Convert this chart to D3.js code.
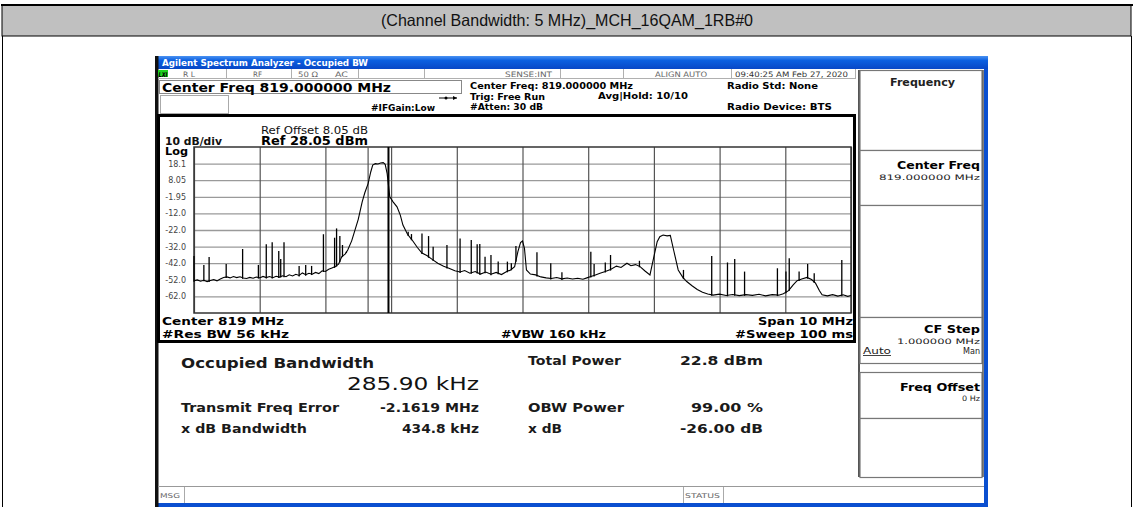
<!DOCTYPE html>
<html>
<head>
<meta charset="utf-8">
<script src="https://cdn.jsdelivr.net/npm/d3@7"></script>
<style>
  html, body { margin: 0; padding: 0; background: #fff; }
  svg { display: block; font-family: "DejaVu Sans", Verdana, sans-serif; }
</style>
</head>
<body>
<svg id="chart" width="1134" height="507"></svg>
<script>
// ---- values ----
const chartTitle = "(Channel Bandwidth: 5 MHz)_MCH_16QAM_1RB#0";

// span 814..824 MHz, ref 28.05 dBm, 10 dB/div
const freqDomain = [814, 824];
const levelDomain = [-71.95, 28.05];
const xGridFreqs = [814, 815, 816, 817, 818, 819, 820, 821, 822, 823, 824];
const yTickValues = [18.05, 8.05, -1.95, -11.95, -21.95, -31.95, -41.95, -51.95, -61.95];
const yTickLabels = ["18.1", "8.05", "-1.95", "-12.0", "-22.0", "-32.0", "-42.0", "-52.0", "-62.0"];

// trace [MHz, dBm]
const trace = [
  [814.00,-52.5],[814.05,-52.0],[814.10,-52.8],[814.15,-52.2],[814.20,-53.0],[814.25,-52.4],
  [814.30,-51.8],[814.35,-52.6],[814.40,-51.5],[814.45,-50.6],[814.50,-50.2],[814.55,-50.8],
  [814.60,-50.0],[814.65,-50.6],[814.70,-50.1],[814.75,-50.9],[814.80,-51.2],[814.85,-50.5],
  [814.90,-51.0],[814.95,-50.3],[815.00,-50.8],[815.05,-49.9],[815.10,-50.6],[815.15,-50.0],
  [815.20,-50.7],[815.25,-49.8],[815.30,-50.3],[815.35,-49.5],[815.40,-50.1],[815.45,-48.9],
  [815.50,-49.6],[815.55,-48.6],[815.60,-49.3],[815.65,-47.8],[815.70,-48.9],[815.75,-48.0],
  [815.80,-48.6],[815.85,-47.5],[815.90,-48.2],[815.95,-46.5],[816.00,-46.9],[816.05,-45.6],
  [816.10,-44.8],[816.15,-44.0],[816.20,-42.5],[816.25,-38.0],[816.30,-36.5],[816.34,-34.0],
  [816.40,-28.5],[816.45,-22.0],[816.50,-15.5],[816.56,-5.0],[816.60,0.5],[816.65,6.0],
  [816.69,13.0],[816.72,17.2],[816.76,18.0],[816.80,17.8],[816.84,18.4],[816.88,18.6],
  [816.91,17.6],[816.94,12.0],[816.98,-2.0],[817.03,-5.0],[817.09,-8.0],[817.14,-13.0],
  [817.18,-19.0],[817.25,-24.5],[817.32,-28.0],[817.40,-32.5],[817.47,-35.8],[817.55,-37.5],
  [817.62,-39.5],[817.71,-42.0],[817.80,-43.8],[817.88,-45.0],[817.97,-46.5],[818.05,-47.2],
  [818.12,-46.4],[818.20,-48.0],[818.28,-47.0],[818.36,-48.5],[818.44,-47.3],[818.52,-48.6],
  [818.60,-47.5],[818.68,-48.8],[818.76,-47.0],[818.82,-46.0],[818.88,-44.0],[818.93,-35.0],
  [818.97,-29.5],[819.00,-28.6],[819.03,-33.0],[819.06,-46.0],[819.12,-48.5],[819.20,-49.0],
  [819.28,-50.2],[819.36,-50.8],[819.44,-51.2],[819.52,-50.6],[819.60,-51.4],[819.68,-50.9],
  [819.76,-51.5],[819.84,-51.0],[819.92,-51.6],[819.98,-50.8],[820.04,-50.0],[820.10,-49.2],
  [820.18,-48.0],[820.26,-47.0],[820.34,-45.8],[820.43,-43.7],[820.50,-44.5],[820.59,-42.0],
  [820.65,-43.5],[820.72,-42.8],[820.79,-44.0],[820.86,-46.5],[820.94,-49.0],[821.00,-38.0],
  [821.05,-29.0],[821.09,-26.0],[821.14,-25.0],[821.20,-25.5],[821.25,-25.2],[821.30,-34.0],
  [821.37,-46.0],[821.44,-50.5],[821.50,-53.0],[821.58,-55.5],[821.66,-57.8],[821.74,-59.5],
  [821.82,-60.5],[821.90,-61.2],[822.00,-60.6],[822.10,-61.4],[822.20,-60.8],[822.30,-61.5],
  [822.40,-60.9],[822.50,-61.3],[822.60,-60.7],[822.70,-61.6],[822.80,-60.9],[822.90,-61.2],
  [822.97,-60.4],[823.05,-58.5],[823.12,-55.0],[823.18,-52.5],[823.25,-51.5],[823.33,-50.5],
  [823.40,-51.8],[823.46,-54.0],[823.52,-58.5],[823.56,-61.0],[823.64,-61.6],[823.72,-60.9],
  [823.80,-61.8],[823.88,-61.0],[823.95,-61.9],[824.00,-61.4]
];

// narrow spurs [MHz, peak dBm]
const spurs = [
  [814.00,-37.6],[814.15,-43.0],[814.23,-38.2],[814.49,-42.4],[814.74,-33.4],[814.98,-43.0],
  [815.10,-30.6],[815.19,-29.4],[815.29,-34.6],[815.32,-39.4],[815.37,-29.4],[815.60,-43.6],
  [815.70,-43.0],[815.79,-43.6],[815.97,-24.5],[816.14,-26.6],[816.17,-21.0],[816.22,-25.6],
  [816.26,-31.0],[816.32,-35.0],[817.26,-23.0],[817.31,-24.4],[817.47,-24.0],[817.57,-25.6],
  [817.64,-32.0],[817.85,-31.0],[818.05,-27.0],[818.22,-28.0],[818.31,-30.6],[818.35,-30.4],
  [818.43,-38.0],[818.52,-37.0],[818.63,-41.0],[818.77,-41.0],[818.83,-42.0],[818.90,-31.6],
  [819.22,-35.4],[819.43,-42.0],[819.60,-47.4],[820.04,-35.0],[820.09,-42.4],[820.26,-41.6],
  [820.34,-37.0],[820.78,-40.5],[821.45,-46.0],[821.88,-37.6],[822.12,-41.5],[822.23,-39.4],
  [822.38,-47.0],[822.88,-45.0],[823.01,-47.0],[823.06,-39.0],[823.21,-47.0],[823.34,-42.4],
  [823.44,-48.0],[823.86,-40.0]
];

// occupied bandwidth edges, MHz
const obwEdges = [816.65, 816.96];

// status lines
const lxiCells = ["R L", "RF", "50 \u03a9", "AC", "SENSE:INT", "ALIGN AUTO", "09:40:25 AM Feb 27, 2020"];
const setupLeft = ["Center Freq: 819.000000 MHz", "Trig: Free Run", "#Atten: 30 dB"];
const setupRight = ["Radio Std: None", "Radio Device: BTS"];
const footLeft = ["Center  819 MHz", "#Res BW  56 kHz"];
const footRight = ["Span 10 MHz", "#Sweep  100 ms"];

// results
const resultLabels = ["Transmit Freq Error", "x dB Bandwidth"];
const resultValues = ["-2.1619 MHz", "434.8 kHz"];
const resultLabels2 = ["Total Power", "OBW Power", "x dB"];
const resultValues2 = ["22.8 dBm", "99.00 %", "-26.00 dB"];

// ---- drawing ----
const svg = d3.select("#chart");

function label(g, str, x, y, o = {}) {
  const t = g.append("text")
    .attr("x", x).attr("y", y)
    .attr("font-size", o.size || 10)
    .attr("font-weight", o.bold ? "bold" : "normal")
    .attr("fill", o.fill || "#000")
    .attr("text-anchor", o.anchor || "start")
    .text(str);
  if (o.family) t.attr("font-family", o.family);
  if (o.len) t.attr("textLength", o.len).attr("lengthAdjust", "spacingAndGlyphs");
  if (o.italic) t.attr("font-style", "italic");
  if (o.underline) t.attr("text-decoration", "underline");
  return t;
}

// page frame + title cell
svg.append("rect").attr("x", 2).attr("y", 5).attr("width", 1129).attr("height", 31)
  .attr("fill", "#c0c0c0").attr("stroke", "#000").attr("stroke-width", 1);
svg.append("line").attr("x1", 1).attr("x2", 1133).attr("y1", 5).attr("y2", 5)
  .attr("stroke", "#000").attr("stroke-width", 2);
svg.append("line").attr("x1", 2.5).attr("x2", 2.5).attr("y1", 36).attr("y2", 507).attr("stroke", "#000");
svg.append("line").attr("x1", 1131.5).attr("x2", 1131.5).attr("y1", 36).attr("y2", 507).attr("stroke", "#000");
label(svg, chartTitle, 567, 26, { size: 16.5, anchor: "middle", family: "'Liberation Sans', Arial, sans-serif", fill: "#111", len: 372 });

// analyzer window
const win = svg.append("g");
const grad = svg.append("defs").append("linearGradient").attr("id", "bar").attr("x1", 0).attr("x2", 0).attr("y1", 0).attr("y2", 1);
grad.append("stop").attr("offset", 0).attr("stop-color", "#4a92f2");
grad.append("stop").attr("offset", 0.35).attr("stop-color", "#0b5fe0");
grad.append("stop").attr("offset", 1).attr("stop-color", "#0847c6");
win.append("rect").attr("x", 155).attr("y", 56).attr("width", 833).attr("height", 454).attr("fill", "#0a4fd0");
win.append("rect").attr("x", 155).attr("y", 56).attr("width", 833).attr("height", 13).attr("fill", "url(#bar)");
win.append("rect").attr("x", 158).attr("y", 69).attr("width", 826).attr("height", 434).attr("fill", "#fff");
win.append("rect").attr("x", 155).attr("y", 56).attr("width", 3.5).attr("height", 454).attr("fill", "#111");
label(win, "Agilent Spectrum Analyzer - Occupied BW", 162, 66, { size: 8.5, bold: true, fill: "#fff", len: 206 });

// LXI status row
const lxiX = [183, 253, 298, 335, 505, 655, 735];
const lxiLen = [12, 9, 20, 13, 47, 52, 113];
const lxiSep = [226.5, 291.5, 358.5, 424.5, 560.5, 623.5, 731.5, 855.5];
win.append("rect").attr("x", 158).attr("y", 70).attr("width", 10).attr("height", 7).attr("fill", "#1fd21f");
label(win, "LXI", 158.5, 76.5, { size: 6.5, bold: true, italic: true, len: 9 });
lxiSep.forEach(x => win.append("line").attr("x1", x).attr("x2", x).attr("y1", 69).attr("y2", 78).attr("stroke", "#b0b0b0"));
win.append("line").attr("x1", 158).attr("x2", 856).attr("y1", 78.5).attr("y2", 78.5).attr("stroke", "#b0b0b0");
lxiCells.forEach((s, i) => label(win, s, lxiX[i], 76.5, { size: 7.5, fill: i === 6 ? "#333" : "#666", len: lxiLen[i] }));

// setup row
win.append("rect").attr("x", 159.5).attr("y", 80.5).attr("width", 302).attr("height", 13)
  .attr("fill", "#fff").attr("stroke", "#888");
label(win, "Center Freq 819.000000 MHz", 162, 92, { size: 13, bold: true, len: 229 });
win.append("rect").attr("x", 160.5).attr("y", 95.5).attr("width", 68).attr("height", 18)
  .attr("fill", "#fff").attr("stroke", "#aaa");
label(win, "#IFGain:Low", 371, 110.5, { size: 8.5, bold: true, len: 64 });
win.append("line").attr("x1", 439).attr("x2", 457).attr("y1", 98).attr("y2", 98).attr("stroke", "#000");
win.append("path").attr("d", "M457,98 l-4,-2 v4 z").attr("fill", "#000");
win.append("circle").attr("cx", 446).attr("cy", 98).attr("r", 1.5).attr("fill", "#000");
const setupY = [88.5, 99.5, 110];
const setupLen = [163, 75, 73];
setupLeft.forEach((s, i) => label(win, s, 470, setupY[i], { size: 8.5, bold: true, len: setupLen[i] }));
label(win, "Avg|Hold: 10/10", 598, 99, { size: 8.5, bold: true, len: 90 });
label(win, setupRight[0], 727, 88.5, { size: 8.5, bold: true, len: 91 });
label(win, setupRight[1], 727, 109.5, { size: 8.5, bold: true, len: 105 });

// plot box
win.append("rect").attr("x", 158.5).attr("y", 115.5).attr("width", 696).attr("height", 226)
  .attr("fill", "#fff").attr("stroke", "#000").attr("stroke-width", 3);
label(win, "10 dB/div", 165, 144.5, { size: 10, bold: true, len: 57, fill: "#111" });
label(win, "Log", 165, 155, { size: 10.5, bold: true, len: 23 });
label(win, "Ref Offset 8.05 dB", 261, 133.5, { size: 10, len: 107, fill: "#111" });
label(win, "Ref 28.05 dBm", 261, 145, { size: 12, bold: true, len: 107 });

const plot = { left: 194, right: 851, top: 147, bottom: 313 };
const x = d3.scaleLinear().domain(freqDomain).range([plot.left, plot.right]);
const y = d3.scaleLinear().domain(levelDomain).range([plot.bottom, plot.top]);

// horizontal grid + level labels
const yAxis = d3.axisLeft(y)
  .tickValues(yTickValues)
  .tickFormat((d, i) => yTickLabels[i])
  .tickSize(-(plot.right - plot.left))
  .tickPadding(8);
const gy = win.append("g").attr("transform", `translate(${plot.left},0)`).call(yAxis);
gy.select(".domain").remove();
gy.selectAll("line").attr("stroke", "#9a9a9a").attr("stroke-width", 1.3);
gy.selectAll("text").attr("font-size", 8).attr("fill", "#444").attr("font-family", "'DejaVu Sans', sans-serif");

// vertical grid
const xAxis = d3.axisBottom(x).tickValues(xGridFreqs).tickFormat("").tickSize(-(plot.bottom - plot.top));
const gx = win.append("g").attr("transform", `translate(0,${plot.bottom})`).call(xAxis);
gx.select(".domain").remove();
gx.selectAll("line").attr("stroke", "#555").attr("stroke-width", 1.2);

win.append("rect").attr("x", plot.left).attr("y", plot.top)
  .attr("width", plot.right - plot.left).attr("height", plot.bottom - plot.top)
  .attr("fill", "none").attr("stroke", "#333").attr("stroke-width", 1.5);

// OBW edge markers
win.selectAll("line.obw").data(obwEdges).join("line")
  .attr("class", "obw")
  .attr("x1", d => x(d)).attr("x2", d => x(d))
  .attr("y1", plot.top).attr("y2", plot.bottom)
  .attr("stroke", (d, i) => i === 0 ? "#555" : "#000")
  .attr("stroke-width", (d, i) => i === 0 ? 1.2 : 2);

// trace
const line = d3.line().x(d => x(d[0])).y(d => y(d[1]));
win.append("path").datum(trace).attr("d", line)
  .attr("fill", "none").attr("stroke", "#000").attr("stroke-width", 1.1);

const bis = d3.bisector(d => d[0]).left;
function levelAt(f) {
  const i = Math.min(Math.max(bis(trace, f), 1), trace.length - 1);
  const a = trace[i - 1], b = trace[i];
  return a[1] + (b[1] - a[1]) * (f - a[0]) / (b[0] - a[0]);
}
win.selectAll("line.spur").data(spurs).join("line")
  .attr("class", "spur")
  .attr("x1", d => x(d[0])).attr("x2", d => x(d[0]))
  .attr("y1", d => y(d[1])).attr("y2", d => y(levelAt(d[0])) + 1)
  .attr("stroke", "#000").attr("stroke-width", 1.3);

// footer of plot box
label(win, footLeft[0], 162, 325, { size: 11, bold: true, len: 122 });
label(win, footLeft[1], 162, 338, { size: 11, bold: true, len: 127 });
label(win, "#VBW  160 kHz", 501, 338, { size: 11, bold: true, len: 105 });
label(win, footRight[0], 853, 325, { size: 11, bold: true, len: 95, anchor: "end" });
label(win, footRight[1], 853, 338, { size: 11, bold: true, len: 118, anchor: "end" });

// results panel
label(win, "Occupied Bandwidth", 181, 367.5, { size: 14, bold: true, len: 193, fill: "#1a1a1a" });
label(win, "285.90 kHz", 347, 389.5, { size: 18, len: 132, fill: "#111" });
const resY = [365, 411.5, 432.5];
label(win, resultLabels2[0], 528, resY[0], { size: 12, bold: true, len: 93, fill: "#1a1a1a" });
label(win, resultValues2[0], 763, resY[0], { size: 12, bold: true, len: 83, anchor: "end", fill: "#1a1a1a" });
const labLen = [158, 126], valLen = [99, 77], lab2Len = [96, 34], val2Len = [72, 83];
resultLabels.forEach((s, i) => label(win, s, 181, resY[i + 1], { size: 12, bold: true, len: labLen[i], fill: "#1a1a1a" }));
resultValues.forEach((s, i) => label(win, s, 479, resY[i + 1], { size: 12, bold: true, len: valLen[i], anchor: "end", fill: "#1a1a1a" }));
resultLabels2.slice(1).forEach((s, i) => label(win, s, 528, resY[i + 1], { size: 12, bold: true, len: lab2Len[i], fill: "#1a1a1a" }));
resultValues2.slice(1).forEach((s, i) => label(win, s, 763, resY[i + 1], { size: 12, bold: true, len: val2Len[i], anchor: "end", fill: "#1a1a1a" }));

// message bar
win.append("line").attr("x1", 158).attr("x2", 984).attr("y1", 486.5).attr("y2", 486.5).attr("stroke", "#999");
[184.5, 683.5, 723.5].forEach(x0 => win.append("line").attr("x1", x0).attr("x2", x0).attr("y1", 487).attr("y2", 503).attr("stroke", "#aaa"));
label(win, "MSG", 160, 498, { size: 6.5, fill: "#666", len: 20 });
label(win, "STATUS", 685, 498, { size: 6.5, fill: "#666", len: 35 });

// softkey panel
const keys = win.append("g");
keys.append("line").attr("x1", 859).attr("x2", 859).attr("y1", 70).attr("y2", 477).attr("stroke", "#555").attr("stroke-width", 2);
const keyBoxes = [[70, 150], [150, 205], [205, 317], [317, 363], [372, 418], [418, 477]];
keyBoxes.forEach(b => keys.append("rect").attr("x", 860).attr("y", b[0] + 0.5)
  .attr("width", 122).attr("height", b[1] - b[0]).attr("fill", "#fff").attr("stroke", "#777").attr("stroke-width", 1.2));
keys.append("line").attr("x1", 983).attr("x2", 983).attr("y1", 70).attr("y2", 477).attr("stroke", "#555").attr("stroke-width", 1.5);
label(keys, "Frequency", 890, 85.5, { size: 10, bold: true, len: 65, fill: "#222" });
label(keys, "Center Freq", 980, 168.5, { size: 11, bold: true, len: 83, anchor: "end" });
label(keys, "819.000000 MHz", 980, 180, { size: 7.5, len: 101, anchor: "end", fill: "#222" });
label(keys, "CF Step", 980, 332.5, { size: 11, bold: true, len: 56, anchor: "end" });
label(keys, "1.000000 MHz", 980, 343.5, { size: 7.5, len: 83, anchor: "end", fill: "#222" });
label(keys, "Auto", 863, 354, { size: 8.5, len: 28, underline: true, fill: "#222" });
label(keys, "Man", 980, 354, { size: 8.5, len: 17, anchor: "end", fill: "#222" });
label(keys, "Freq Offset", 980, 390.5, { size: 11, bold: true, len: 80, anchor: "end" });
label(keys, "0 Hz", 980, 401, { size: 7.5, len: 18, anchor: "end", fill: "#222" });
</script>
</body>
</html>
